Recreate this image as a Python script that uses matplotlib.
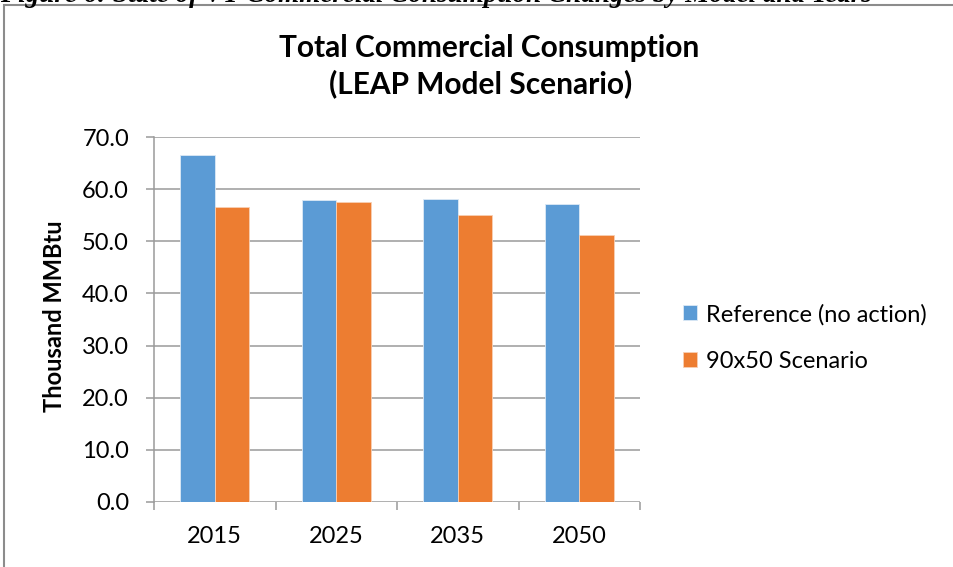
import matplotlib.pyplot as plt
from matplotlib.patches import Rectangle
import numpy as np

plt.rcParams['font.family'] = ['Lato', 'DejaVu Sans']

years = ['2015', '2025', '2035', '2050']
reference = [66.6, 58.0, 58.2, 57.2]
scenario_90x50 = [56.6, 57.5, 55.0, 51.3]
series_names = ['Reference (no action)', '90x50 Scenario']
blue = '#5b9bd5'
orange = '#ed7d31'
grey = '#9a9a9a'

W, H = 954, 567
fig = plt.figure(figsize=(W / 100, H / 100), dpi=100)


def fx(px):
    return px / W


def fy(py):
    return 1 - py / H


ax = fig.add_axes([fx(154), fy(502), fx(640) - fx(154), fy(137) - fy(502)])

x = np.arange(len(years))
w = 0.285
ax.bar(x - w / 2, reference, w, color=blue, edgecolor='#dce9f6', linewidth=0.6,
       label=series_names[0], zorder=3)
ax.bar(x + w / 2, scenario_90x50, w, color=orange, edgecolor='#f8d0b4', linewidth=0.6,
       label=series_names[1], zorder=3)

ax.set_xlim(-0.5, len(years) - 0.5)
ax.set_ylim(0, 70)
ax.set_yticks(np.arange(0, 71, 10))
ax.set_yticklabels([f'{v:.1f}' for v in range(0, 71, 10)], fontsize=17)
ax.set_xticks(x)
ax.set_xticklabels(years, fontsize=17)
ax.set_xticks(np.arange(-0.5, len(years), 1.0), minor=True)
ax.tick_params(axis='x', which='major', length=0, pad=17)
ax.tick_params(axis='x', which='minor', length=6, width=1.1, color=grey)
ax.tick_params(axis='y', length=6, width=1.1, color=grey, pad=12)

ax.grid(axis='y', color=grey, lw=1.1, zorder=0)
for s in ['top', 'right', 'bottom']:
    ax.spines[s].set_visible(False)
ax.spines['left'].set_color(grey)
ax.spines['left'].set_linewidth(1.1)

ax.set_ylabel('Thousand MMBtu', fontsize=17, fontweight='bold')
ax.yaxis.set_label_coords(fx(62), fy(316), transform=fig.transFigure)
ax.yaxis.label.set_va('baseline')

# title, centred on the whole chart area
fig.text(fx(489), fy(57), 'Total Commercial Consumption', ha='center', va='baseline',
         fontsize=21.5, fontweight='bold')
fig.text(fx(632), fy(93), '(LEAP Model Scenario)', ha='right', va='baseline',
         fontsize=21.5, fontweight='bold')

ax.legend(loc='center left', bbox_to_anchor=(fx(683), fy(338)),
          bbox_transform=fig.transFigure, frameon=False, fontsize=17,
          handlelength=0.6, handleheight=0.6, labelspacing=1.1, handletextpad=0.38,
          borderpad=0, borderaxespad=0)

# chart frame and the caption running off the top edge
fig.patches.append(Rectangle((fx(4), -0.05), 1.1, fy(5) + 0.05,
                             transform=fig.transFigure, fill=False,
                             edgecolor='#8c8c8c', lw=1.5))
fig.text(0.0, fy(1.5),
         'Figure 6: State of VT Commercial Consumption Changes by Model and Years',
         ha='left', va='baseline', fontsize=19.5, fontweight='bold', fontstyle='italic',
         family=['Liberation Serif', 'DejaVu Serif'])

fig.savefig('out.png', dpi=100)
